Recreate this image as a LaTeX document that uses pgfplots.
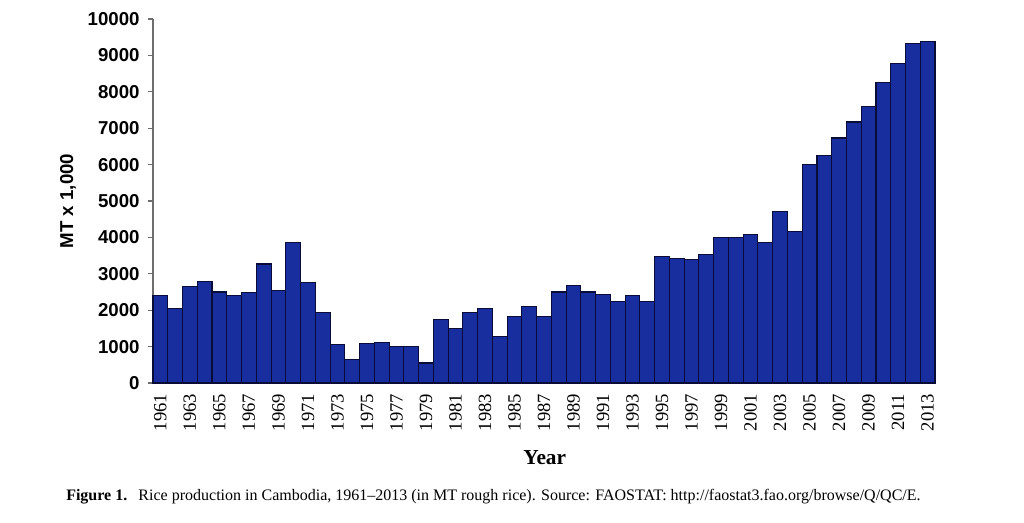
\documentclass[border=0pt]{standalone}
\usepackage{fontspec}
\setmainfont{Liberation Serif}
\newfontfamily\arial{Liberation Sans}
\usepackage{pgfplots}
\pgfplotsset{compat=1.18}
\usepackage{pgfplotstable}
\definecolor{barblue}{RGB}{24,46,158}
\definecolor{baredge}{RGB}{8,12,55}
\definecolor{axgray}{RGB}{110,110,110}

\pgfplotstableread{
year val
1961 2400
1962 2050
1963 2650
1964 2780
1965 2500
1966 2410
1967 2480
1968 3270
1969 2540
1970 3860
1971 2760
1972 1940
1973 1060
1974 650
1975 1080
1976 1100
1977 990
1978 990
1979 550
1980 1750
1981 1500
1982 1940
1983 2040
1984 1270
1985 1820
1986 2100
1987 1820
1988 2500
1989 2680
1990 2500
1991 2430
1992 2230
1993 2400
1994 2230
1995 3470
1996 3410
1997 3400
1998 3520
1999 4010
2000 4010
2001 4090
2002 3860
2003 4710
2004 4150
2005 6010
2006 6240
2007 6730
2008 7170
2009 7590
2010 8250
2011 8770
2012 9320
2013 9390
}\ricedata

\begin{document}
\begin{tikzpicture}
\path[use as bounding box] (0pt,0pt) rectangle (768pt,-392.25pt);
\begin{axis}[
  at={(114.75pt,-287.25pt)}, anchor=south west,
  scale only axis, width=586.5pt, height=273pt,
  xmin=1960.5, xmax=2013.5, ymin=0, ymax=10000,
  axis lines*=left,
  axis line style={axgray, line width=0.8pt},
  xtick={1961,1963,...,2013},
  ytick={0,1000,...,10000},
  scaled y ticks=false,
  /pgf/number format/1000 sep={},
  /pgf/number format/assume math mode=true,
  xtick style={draw=none},
  ytick style={axgray, line width=0.8pt},
  tick align=outside,
  major tick length=3.5pt,
  y tick label style={font=\arial\bfseries\fontsize{14}{14}\selectfont, xshift=-3pt},
  x tick label style={rotate=90, anchor=east, font=\fontsize{14}{14}\selectfont, xshift=-1pt},
  xlabel={\textbf{Year}},
  xlabel style={at={(axis description cs:0.501,-0.206)}, anchor=center, font=\fontsize{16}{16}\selectfont},
  ylabel={\arial\bfseries MT x 1,000},
  ylabel style={at={(axis description cs:-0.1087,0.5)}, anchor=center, font=\fontsize{14}{14}\selectfont},
  clip=false,
]
\addplot[ybar, bar width=1, bar shift=0pt, fill=barblue, draw=baredge, line width=0.8pt] table[x=year, y=val] {\ricedata};
\end{axis}
\node[anchor=west, inner sep=0pt, font=\fontsize{12}{12}\selectfont] at (49.5pt,-372.75pt)
  {\textbf{Figure 1.}\hspace{0.7em}Rice production in Cambodia, 1961--2013 (in MT rough rice). Source: FAOSTAT: http://faostat3.fao.org/browse/Q/QC/E.};
\end{tikzpicture}
\end{document}
